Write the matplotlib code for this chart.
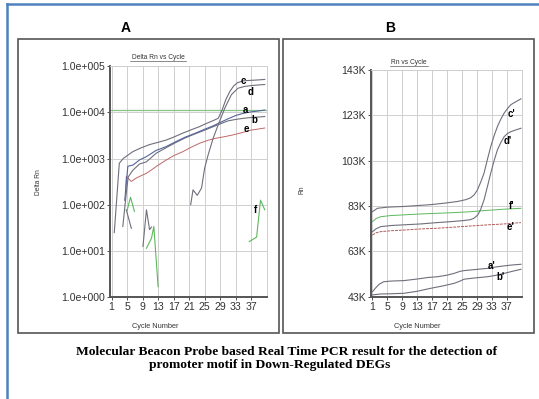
import matplotlib.pyplot as plt
from matplotlib.patches import Rectangle
from matplotlib.lines import Line2D

plt.rcParams['font.family'] = ['Liberation Sans', 'DejaVu Sans']

# ---- panel A : Delta Rn vs Cycle (log scale) ----
a_cyc = [4.4, 5.2, 6.5, 8.2, 10, 12.5, 15, 17.5, 20, 22.5, 25, 27, 29, 31, 33, 35, 37, 39, 40.5]
a_val = [125, 680, 720, 930, 1100, 1500, 1800, 2300, 2900, 3500, 4300, 5000, 6000, 7200, 8500, 9500, 10200, 10700, 11200]

b_cyc = [3.9, 4.8, 5.3, 6.5, 8.2, 10, 12.5, 15, 17.5, 20, 22.5, 25, 27, 29, 31, 33, 35, 37, 39, 40.5]
b_val = [34, 180, 400, 560, 760, 850, 1300, 1700, 2200, 2800, 3400, 4100, 4800, 5600, 6500, 7000, 7400, 7700, 7900, 8100]

c_cyc = [1.7, 3.0, 4, 5, 6.5, 8.6, 10.8, 13, 15.1, 17, 19.4, 21.5, 23.7, 25.5, 27.2, 28.5, 29.5, 30.5,
         31.5, 32.5, 33.5, 35, 37, 39, 40.5]
c_val = [25, 790, 1000, 1150, 1410, 1700, 2000, 2240, 2510, 2900, 3550, 4170, 4900, 5750, 6600, 7400, 11200,
         19100, 28200, 37200, 43700, 47900, 49000, 50100, 51300]

d_cyc = [21.4, 22, 23.1, 24.2, 25, 25.9, 27.2, 28.5, 30.2, 31.9, 33.6, 35.4, 37, 39, 40.5]
d_val = [100, 210, 160, 230, 620, 1200, 2750, 5370, 12300, 24000, 33100, 36300, 37700, 39000, 39800]

e_cyc = [4.6, 4.8, 6.1, 7.4, 8.5, 10, 11.2, 12.6, 15.1, 17, 19.4, 21.5, 23.7, 26, 28, 30, 32.3, 34.5, 36.7, 38.5, 40.5]
e_val = [195, 410, 320, 380, 420, 480, 560, 680, 930, 1150, 1410, 1750, 2140, 2500, 2750, 2950, 3240, 3600, 4070, 4300, 4570]

# short noisy traces (no label)
n1_cyc = [4.8, 6.1]
n1_val = [78, 31]
n2_cyc = [9.1, 10.0, 10.8, 11.3]
n2_val = [12.6, 78, 29, 33]
g1_cyc = [5.0, 5.9, 6.9]
g1_val = [75, 145, 72]
g2_cyc = [10.0, 11.3, 11.9, 13.0]
g2_val = [11.5, 19, 34, 1.7]
f_cyc = [36.5, 38.4, 39.4, 40.5]
f_val = [16, 20, 126, 78]

threshold = 11000

a_ticks = [1, 10, 100, 1000, 10000, 100000]
a_ticklabels = ['1.0e+000', '1.0e+001', '1.0e+002', '1.0e+003', '1.0e+004', '1.0e+005']

# ---- panel B : Rn vs Cycle (thousands) ----
cp_cyc = [1, 2.3, 5, 9.4, 13, 16.6, 20, 23.8, 26, 27.3, 28.3, 29.1, 30, 30.9, 31.8, 32.7, 33.6, 34.5,
          35.4, 36.3, 37.2, 38.1, 39.2, 40.3, 40.8]
cp_val = [80.5, 82.0, 82.5, 82.8, 83.2, 83.6, 84.2, 85.0, 85.8, 86.6, 88.0, 90.0, 93.5, 97.5, 103.5, 109.2,
          114.0, 118.1, 121.3, 124.0, 126.0, 127.7, 128.8, 129.8, 130.3]
dp_cyc = [1, 2, 3.2, 6, 9.4, 14, 18.4, 22, 25.5, 27.3, 28.2, 29.2, 30.0, 30.9, 31.8, 32.7, 33.6, 34.5,
          35.4, 36.3, 37.2, 38.1, 39.5, 40.8]
dp_val = [71.7, 73.0, 73.9, 74.4, 74.7, 75.1, 75.7, 76.1, 76.6, 77.0, 77.6, 79.0, 81.5, 85.7, 91.5, 97.5,
          103.0, 107.8, 111.0, 113.6, 115.0, 115.8, 116.6, 117.3]
fp_cyc = [1, 2, 3.2, 6, 9.4, 14, 18.4, 23, 27.3, 32, 36.3, 40.8]
fp_val = [76.1, 77.5, 78.3, 78.8, 79.1, 79.5, 79.8, 80.1, 80.5, 81.1, 81.6, 82.0]
ep_cyc = [1, 2, 3.2, 6, 9.4, 14, 18.4, 23, 27.3, 32, 36.3, 40.8]
ep_val = [70.2, 71.2, 71.7, 72.1, 72.4, 72.9, 73.2, 73.7, 74.2, 74.7, 75.1, 75.7]
ap_cyc = [1, 1.8, 2.8, 4, 6, 9.4, 13, 16, 18.4, 21, 22.9, 24.5, 25.5, 28, 31.8, 34, 36.3, 38.5, 40.8]
ap_val = [45.2, 46.8, 48.5, 49.6, 49.9, 50.1, 50.8, 51.5, 51.8, 52.5, 53.3, 54.2, 54.5, 54.9, 55.5, 56.1,
          56.6, 57.0, 57.3]
bp_cyc = [1, 3.2, 6, 9.4, 13, 16.6, 20, 22.9, 24.5, 25.5, 28, 31.8, 34, 36.3, 38.5, 40.8]
bp_val = [43.8, 44.2, 44.3, 44.5, 45.4, 46.7, 47.8, 48.9, 49.9, 50.7, 51.2, 51.8, 52.4, 53.3, 54.2, 55.1]

b_ticks = [43, 63, 83, 103, 123, 143]
b_ticklabels = ['43K', '63K', '83K', '103K', '123K', '143K']

x_ticks = [1, 5, 9, 13, 17, 21, 25, 29, 33, 37]

GRAY = '#6f6f7c'
BLUE = '#56659a'
RED = '#c06868'
GREEN = '#5cb85c'
GRID = '#cfcfcf'

W, H = 539, 399
fig = plt.figure(figsize=(W / 100, H / 100), dpi=100)


def fx(px):
    return px / W


def fy(py):
    return 1 - py / H


def style_axes(ax):
    ax.set_xlim(0.6, 41)
    ax.set_xticks(x_ticks)
    ax.tick_params(axis='both', labelsize=7.6, length=2, width=0.6, pad=1.5, colors='#333333')
    ax.grid(True, color=GRID, linewidth=0.7)
    ax.set_axisbelow(True)
    for s in ['top', 'right']:
        ax.spines[s].set_color(GRID)
        ax.spines[s].set_linewidth(0.7)
    for s in ['left', 'bottom']:
        ax.spines[s].set_color('#555555')
        ax.spines[s].set_linewidth(1.4)


# outer blue frame
fig.add_artist(Line2D([fx(7), fx(7)], [fy(4), 0], color='#4f81bd', lw=1.8))
fig.add_artist(Line2D([fx(7), 1], [fy(4), fy(4)], color='#4f81bd', lw=1.8))

# panel boxes
for x0, x1 in [(18, 279), (283, 534)]:
    fig.add_artist(Rectangle((fx(x0), fy(333)), fx(x1 - x0), (333 - 39) / H, fill=False,
                             edgecolor='#555555', lw=1.2, transform=fig.transFigure))

# ---------- panel A ----------
axA = fig.add_axes([fx(110), fy(297.3), fx(156.7), 231.3 / H])
axA.set_yscale('log')
axA.set_ylim(1, 1e5)
axA.set_yticks(a_ticks)
axA.set_yticklabels(a_ticklabels)
axA.minorticks_off()
style_axes(axA)

axA.axhline(threshold, color='#86c386', lw=0.9)
axA.plot(e_cyc, e_val, color=RED, lw=0.7)
axA.plot(b_cyc, b_val, color=GRAY, lw=0.8)
axA.plot(a_cyc, a_val, color=BLUE, lw=0.8)
axA.plot(c_cyc, c_val, color=GRAY, lw=0.8)
axA.plot(d_cyc, d_val, color=GRAY, lw=0.8)
axA.plot(n1_cyc, n1_val, color=GRAY, lw=0.8)
axA.plot(n2_cyc, n2_val, color=GRAY, lw=0.8)
axA.plot(g1_cyc, g1_val, color=GREEN, lw=0.8)
axA.plot(g2_cyc, g2_val, color=GREEN, lw=0.8)
axA.plot(f_cyc, f_val, color=GREEN, lw=0.8)

for lab, x, y in [('c', 34.9, 48000), ('d', 36.8, 27500), ('a', 35.4, 11000), ('b', 37.8, 6900),
                  ('e', 35.8, 4400), ('f', 38.0, 78)]:
    axA.text(x, y, lab, fontsize=7, fontweight='bold', ha='center', va='center')

# ---------- panel B ----------
axB = fig.add_axes([fx(371), fy(296.7), fx(150.7), 226.7 / H])
axB.set_ylim(43, 143)
axB.set_yticks(b_ticks)
axB.set_yticklabels(b_ticklabels)
style_axes(axB)

axB.plot(ep_cyc, ep_val, color='#b05a5a', lw=0.7, ls=(0, (3, 1)))
axB.plot(fp_cyc, fp_val, color=GREEN, lw=0.7)
axB.plot(dp_cyc, dp_val, color=GRAY, lw=0.8)
axB.plot(cp_cyc, cp_val, color=GRAY, lw=0.8)
axB.plot(ap_cyc, ap_val, color=GRAY, lw=0.8)
axB.plot(bp_cyc, bp_val, color=GRAY, lw=0.8)

for lab, x, y in [("c'", 38.2, 123.6), ("d'", 37.2, 111.9), ("f'", 38.3, 83.1), ("e'", 37.9, 73.7),
                  ("a'", 32.9, 56.4), ("b'", 35.4, 51.8)]:
    axB.text(x, y, lab, fontsize=7, fontweight='bold', ha='center', va='center')

# ---------- text ----------
fig.text(fx(126), fy(28), 'A', fontsize=10, fontweight='bold', ha='center', va='center')
fig.text(fx(390), fy(28), 'B', fontsize=10, fontweight='bold', ha='center', va='center')

fig.text(fx(158), fy(57.5), 'Delta Rn vs Cycle', fontsize=4.8, ha='center', va='center', color='#333333')
fig.text(fx(409), fy(62), 'Rn vs Cycle', fontsize=4.8, ha='center', va='center', color='#333333')
fig.add_artist(Line2D([fx(130), fx(186)], [fy(61), fy(61)], color='#333333', lw=0.4))
fig.add_artist(Line2D([fx(390), fx(428)], [fy(65.5), fy(65.5)], color='#333333', lw=0.4))

fig.text(fx(38), fy(182), 'Delta Rn', fontsize=4.8, rotation=90, ha='center', va='center', color='#333333')
fig.text(fx(302), fy(190), 'Rn', fontsize=4.8, rotation=90, ha='center', va='center', color='#333333')
fig.text(fx(155), fy(327), 'Cycle Number', fontsize=5.3, ha='center', va='center', color='#333333')
fig.text(fx(417), fy(326), 'Cycle Number', fontsize=5.3, ha='center', va='center', color='#333333')

fig.text(fx(287), fy(352), 'Molecular Beacon Probe based Real Time PCR result for the detection of',
         family=['Liberation Serif', 'DejaVu Serif'], fontsize=9.7, fontweight='bold', ha='center', va='center')
fig.text(fx(270), fy(365), 'promoter motif in Down-Regulated DEGs',
         family=['Liberation Serif', 'DejaVu Serif'], fontsize=9.7, fontweight='bold', ha='center', va='center')

fig.savefig('out.png', dpi=100)
